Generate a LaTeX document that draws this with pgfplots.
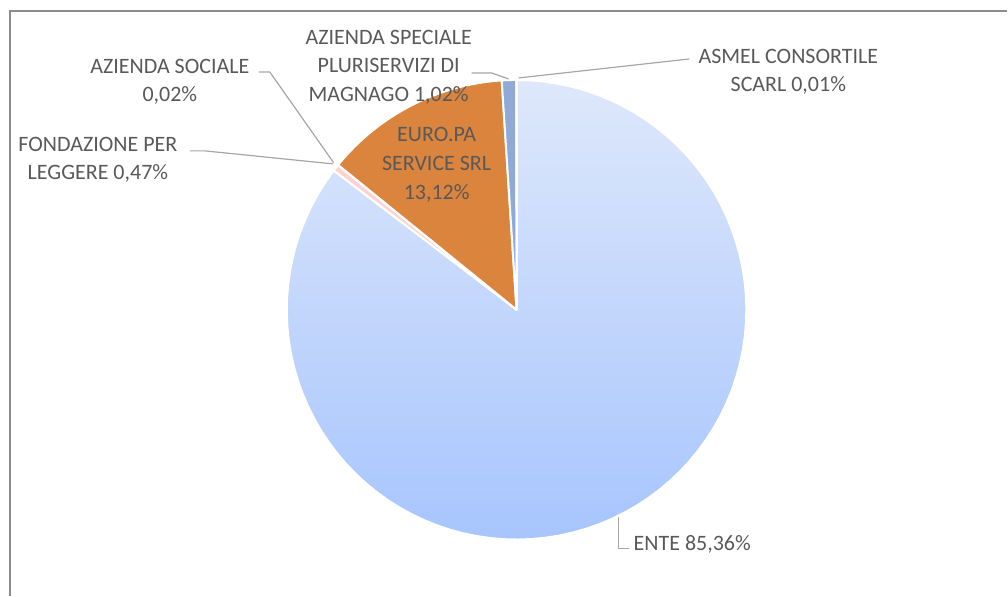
\documentclass[border=0pt]{standalone}
\usepackage{fontspec}
\setmainfont{Carlito}
\usepackage{pgfplots}
\pgfplotsset{compat=1.18}
\definecolor{txt}{HTML}{595959}
\definecolor{lead}{HTML}{A6A6A6}
\definecolor{frame}{HTML}{8C8C8C}
\definecolor{entetop}{HTML}{DEE8FB}
\definecolor{entebot}{HTML}{A7C5FD}
\definecolor{fond}{HTML}{FFD2CF}
\definecolor{soc}{HTML}{F4B183}
\definecolor{euro}{HTML}{DA843D}
\definecolor{spec}{HTML}{8FAAD6}
\definecolor{asmel}{HTML}{5B7FC0}
% slice: start percent, end percent (cumulative), style
\newcommand{\slice}[3]{%
  \addplot[#3, draw=white, line width=1.5pt, line join=round, domain={#1*3.6}:{#2*3.6}, samples=90, variable=\t]
    ({517+230*sin(\t)},{310-230*cos(\t)}) -- (axis cs:517,310) -- cycle;}
\begin{document}
\begin{tikzpicture}
\begin{axis}[x=0.75pt, y=0.75pt, xmin=0, xmax=1008, ymin=0, ymax=596,
  y dir=reverse, hide axis, clip=false, scale only axis]
\path (axis cs:0,0) rectangle (axis cs:1008,596);
% frame (top and left)
\draw[frame, line width=1.3pt] (axis cs:10,596) -- (axis cs:10,11) -- (axis cs:1008,11);
% data: ENTE 85.36, FONDAZIONE 0.47, AZ. SOCIALE 0.02, EURO.PA 13.12, AZ. SPECIALE 1.02, ASMEL 0.01
\slice{0}{85.36}{top color=entetop, bottom color=entebot}
\slice{85.36}{85.83}{fill=fond}
\slice{85.83}{85.85}{fill=soc}
\slice{85.85}{98.97}{fill=euro}
\slice{98.97}{99.99}{fill=spec}
\slice{99.99}{100}{fill=asmel}
% leader lines
\draw[lead, line width=0.9pt] (axis cs:472,73) -- (axis cs:492,73) -- (axis cs:509,79);
\draw[lead, line width=0.9pt] (axis cs:519,78) -- (axis cs:690,59);
\draw[lead, line width=0.9pt] (axis cs:259,72) -- (axis cs:270,72) -- (axis cs:334,163);
\draw[lead, line width=0.9pt] (axis cs:190,151) -- (axis cs:205,151) -- (axis cs:333,164);
\draw[lead, line width=0.9pt] (axis cs:630,549) -- (axis cs:619,549) -- (axis cs:619,517);
% labels
\tikzset{lbl/.style={text=txt, align=center, inner sep=0pt, font=\fontsize{16.5}{21.5}\selectfont}}
\node[lbl] at (axis cs:389,67) {AZIENDA SPECIALE\\PLURISERVIZI DI\\MAGNAGO 1,02\%};
\node[lbl] at (axis cs:789,72) {ASMEL CONSORTILE\\SCARL 0,01\%};
\node[lbl] at (axis cs:170,82) {AZIENDA SOCIALE\\0,02\%};
\node[lbl] at (axis cs:98,160) {FONDAZIONE PER\\LEGGERE 0,47\%};
\node[lbl] at (axis cs:437,165) {EURO.PA\\SERVICE SRL\\13,12\%};
\node[lbl, anchor=west] at (axis cs:634,545) {ENTE 85,36\%};
\end{axis}
\end{tikzpicture}
\end{document}
